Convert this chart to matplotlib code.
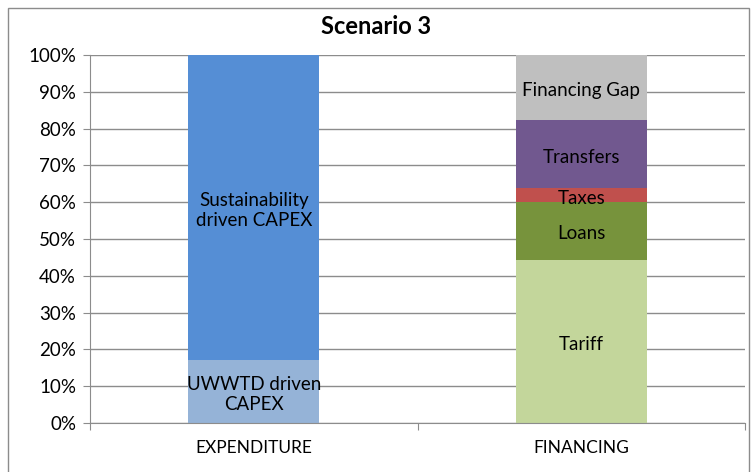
import matplotlib.pyplot as plt
from matplotlib.patches import Rectangle
from matplotlib.transforms import offset_copy

plt.rcParams['font.family'] = ['Lato', 'DejaVu Sans']

categories = ['EXPENDITURE', 'FINANCING']
# (label, value in %, colour)
expenditure = [('UWWTD driven\nCAPEX', 17.1, '#95B3D7'),
               ('Sustainability\ndriven CAPEX', 82.9, '#558ED5')]
financing = [('Tariff', 44.3, '#C3D69B'),
             ('Loans', 15.8, '#77933C'),
             ('Taxes', 3.7, '#C0504D'),
             ('Transfers', 18.5, '#71588F'),
             ('Financing Gap', 17.7, '#BFBFBF')]

fig = plt.figure(figsize=(7.53, 4.72), dpi=100)
ax = fig.add_axes([90 / 753, 1 - 423 / 472, 655 / 753, 368 / 472])
shift = offset_copy(ax.transData, fig=fig, x=0, y=-3, units='dots')

for i, stack in enumerate([expenditure, financing]):
    bottom = 0
    for label, val, color in stack:
        ax.bar(i, val, bottom=bottom, width=0.4, color=color, zorder=2)
        ax.text(i, bottom + val / 2, label, ha='center', va='center',
                fontsize=13.5, color='black', zorder=3, linespacing=1.25,
                transform=shift)
        bottom += val

ax.set_xlim(-0.5, 1.5)
ax.set_ylim(0, 100)
ax.set_yticks(range(0, 101, 10))
ax.set_yticklabels([f'{v}%' for v in range(0, 101, 10)], fontsize=13.5)
ax.yaxis.grid(True, color='#8C8C8C', linewidth=1)
ax.set_axisbelow(True)

ax.set_xticks([-0.5, 0.5, 1.5])
ax.set_xticklabels([])
ax.set_xticks([0, 1], minor=True)
ax.set_xticklabels(categories, minor=True, fontsize=12.5)
ax.tick_params(axis='x', which='minor', length=0, pad=12)
ax.tick_params(axis='x', which='major', length=5, color='#8C8C8C')
ax.tick_params(axis='y', length=5, color='#8C8C8C', pad=5)

for s in ['top', 'right']:
    ax.spines[s].set_visible(False)
for s in ['left', 'bottom']:
    ax.spines[s].set_color('#8C8C8C')

fig.text(0.5, 1 - 27 / 472, 'Scenario 3', ha='center', va='center',
         fontsize=17, fontweight='bold')

fig.patches.append(Rectangle((8 / 753, -0.02), 741 / 753, 1 - 8 / 472 + 0.02,
                             transform=fig.transFigure, fill=False,
                             edgecolor='#8C8C8C', linewidth=1))

fig.savefig('out.png', dpi=100)
